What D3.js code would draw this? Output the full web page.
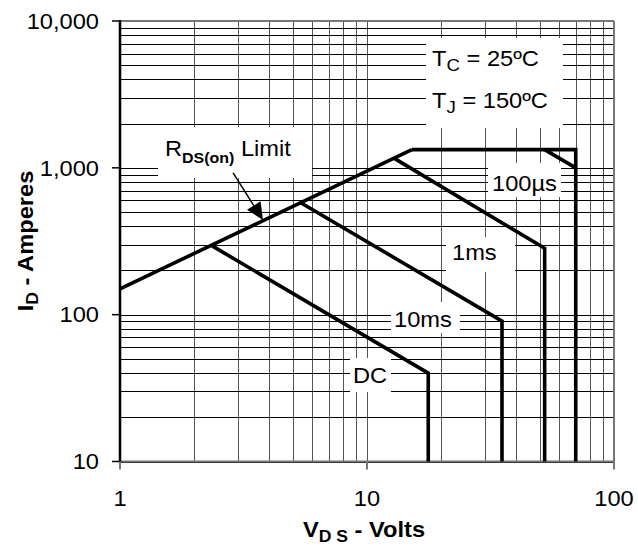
<!DOCTYPE html>
<html><head><meta charset="utf-8">
<script src="https://cdn.jsdelivr.net/npm/d3@7"></script>
<style>
html,body{margin:0;padding:0;background:#fff;}
text{font-family:"Liberation Sans",Arial,sans-serif;fill:#000;}
</style></head>
<body><svg id="c" width="638" height="549"></svg>
<script>
// ---- data ----
const xTicks = [1, 10, 100];
const xTickLabels = ["1", "10", "100"];
const yTicks = [10, 100, 1000, 10000];
const yTickLabels = ["10", "100", "1,000", "10,000"];

const rdsV = [1, 15.2];            const rdsI = [150, 1330];
const envV = [15.2, 70, 70];       const envI = [1330, 1330, 10];
const us100V = [52.4, 70];         const us100I = [1330, 1000];
const ms1V = [12.9, 52.4, 52.4];   const ms1I = [1160, 283, 10];
const ms10V = [5.35, 35.2, 35.2];  const ms10I = [583, 90.4, 10];
const dcV = [2.36, 17.7, 17.7];    const dcI = [294, 40, 10];
const arrowV = [2.87, 3.79];       const arrowI = [923, 442];

const seriesList = [[rdsV, rdsI], [envV, envI], [us100V, us100I], [ms1V, ms1I], [ms10V, ms10I], [dcV, dcI]];

// ---- chart ----
const svg = d3.select("#c");
const X0 = 120, X1 = 614, Y0 = 21, Y1 = 461.5;
const x = d3.scaleLog().domain([1, 100]).range([X0, X1]);
const y = d3.scaleLog().domain([10, 10000]).range([Y1, Y0]);
const SX = 1.1;
const FS = 21.5;

// grid
const gv = [], gh = [];
for (const d of [1, 10]) for (let k = 1; k <= 9; k++) gv.push(k * d);
gv.push(100);
for (const d of [10, 100, 1000]) for (let k = 1; k <= 9; k++) gh.push(k * d);
gh.push(10000);

const grid = svg.append("g");
grid.selectAll("line.v").data(gv).enter().append("line")
  .attr("x1", d => Math.round(x(d)) + 0.5).attr("x2", d => Math.round(x(d)) + 0.5)
  .attr("y1", Y0).attr("y2", Y1).attr("stroke", "#555").attr("stroke-width", 1);
grid.selectAll("line.h").data(gh).enter().append("line")
  .attr("y1", d => Math.round(y(d)) + 0.5).attr("y2", d => Math.round(y(d)) + 0.5)
  .attr("x1", X0).attr("x2", X1).attr("stroke", "#000").attr("stroke-width", 1);

// white label boxes (hide grid)
const boxes = [
  [158, 127, 154, 51],   // RDS(on) Limit
  [426, 38, 137, 90],    // Tc / Tj
  [488, 163, 73, 34],    // 100us
  [446, 237, 69, 35],    // 1ms
  [391, 302, 69, 31],    // 10ms
  [350, 358, 41, 34]     // DC
];
svg.append("g").selectAll("rect").data(boxes).enter().append("rect")
  .attr("x", d => d[0]).attr("y", d => d[1]).attr("width", d => d[2]).attr("height", d => d[3])
  .attr("fill", "#fff");

// frame
svg.append("line").attr("x1", X0).attr("x2", X1).attr("y1", Y0).attr("y2", Y0).attr("stroke", "#777").attr("stroke-width", 2);
svg.append("line").attr("x1", X1).attr("x2", X1).attr("y1", Y0).attr("y2", Y1).attr("stroke", "#777").attr("stroke-width", 2);
svg.append("line").attr("x1", X0).attr("x2", X1).attr("y1", Y1).attr("y2", Y1).attr("stroke", "#777").attr("stroke-width", 2);
svg.append("line").attr("x1", X0).attr("x2", X0).attr("y1", Y0 - 1).attr("y2", Y1 + 1).attr("stroke", "#000").attr("stroke-width", 2.5);

// ticks
svg.append("g").selectAll("line").data(yTicks).enter().append("line")
  .attr("x1", X0 - 8).attr("x2", X0).attr("y1", d => y(d)).attr("y2", d => y(d))
  .attr("stroke", "#000").attr("stroke-width", 1.5);
svg.append("g").selectAll("line").data(xTicks).enter().append("line")
  .attr("x1", d => x(d)).attr("x2", d => x(d)).attr("y1", Y1).attr("y2", Y1 + 8)
  .attr("stroke", "#777").attr("stroke-width", 2);

// tick labels
svg.append("g").selectAll("text").data(yTicks).enter().append("text")
  .attr("transform", d => `translate(99,${y(d) + 7.7}) scale(${SX},1)`)
  .attr("text-anchor", "end").attr("font-size", FS)
  .text((d, i) => yTickLabels[i]);
svg.append("g").selectAll("text").data(xTicks).enter().append("text")
  .attr("transform", d => `translate(${x(d)},505.5) scale(${SX},1)`)
  .attr("text-anchor", "middle").attr("font-size", FS)
  .text((d, i) => xTickLabels[i]);

// curves
const line = d3.line().x(d => x(d[0])).y(d => y(d[1]));
svg.append("g").selectAll("path").data(seriesList).enter().append("path")
  .attr("d", s => line(s[0].map((v, i) => [v, s[1][i]])))
  .attr("fill", "none").attr("stroke", "#000").attr("stroke-width", 3.6)
  .attr("stroke-linejoin", "miter").attr("stroke-linecap", "butt");

// arrow
const ax1 = x(arrowV[0]), ay1 = y(arrowI[0]), ax2 = x(arrowV[1]), ay2 = y(arrowI[1]);
const len = Math.hypot(ax2 - ax1, ay2 - ay1), ux = (ax2 - ax1) / len, uy = (ay2 - ay1) / len;
const hl = 17, hw = 8;
const bx = ax2 - ux * hl, by = ay2 - uy * hl;
svg.append("line").attr("x1", ax1).attr("y1", ay1).attr("x2", bx).attr("y2", by)
  .attr("stroke", "#000").attr("stroke-width", 1.5);
svg.append("path")
  .attr("d", `M${ax2},${ay2}L${bx - uy * hw},${by + ux * hw}L${bx + uy * hw},${by - ux * hw}Z`)
  .attr("fill", "#000");

// annotation text helper
function label(tx, ty, parts, opts = {}) {
  const t = svg.append("text")
    .attr("transform", `translate(${tx},${ty}) ${opts.rot ? "rotate(-90)" : ""} scale(${SX},1)`)
    .attr("font-size", opts.size || FS)
    .attr("font-weight", opts.bold ? "bold" : null)
    .attr("text-anchor", opts.anchor || "start");
  let cur = 0;
  for (const p of parts) {
    const ts = t.append("tspan").text(p.t);
    if (p.size) ts.attr("font-size", p.size);
    if (p.bold) ts.attr("font-weight", "bold");
    const dy = (p.dy || 0) - cur;
    if (dy) ts.attr("dy", dy);
    cur = p.dy || 0;
  }
  return t;
}

label(165, 156, [{t: "R"}, {t: "DS(on)", size: 14.5, bold: true, dy: 6.5}, {t: " Limit"}]);
label(432, 66, [{t: "T"}, {t: "C", size: 17, dy: 5}, {t: " = 25ºC"}]);
label(432, 108, [{t: "T"}, {t: "J", size: 17, dy: 5}, {t: " = 150ºC"}]);
label(492, 191, [{t: "100µs"}]);
label(452, 260, [{t: "1ms"}]);
label(394, 327, [{t: "10ms"}]);
label(353, 383, [{t: "DC"}]);

// axis titles
label(364, 537, [{t: "V"}, {t: "D S", size: 16, dy: 5}, {t: " - Volts"}], {bold: true, anchor: "middle"});
label(33, 241, [{t: "I"}, {t: "D", size: 16, dy: 5}, {t: " - Amperes"}], {bold: true, anchor: "middle", rot: true});
</script>
</body></html>
